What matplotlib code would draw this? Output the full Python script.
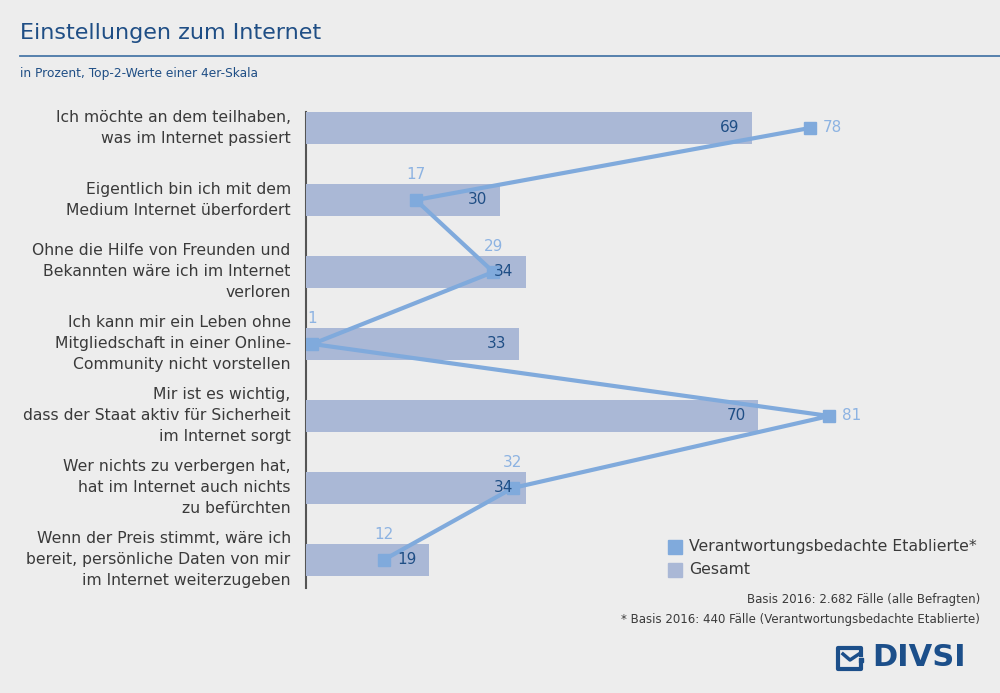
import matplotlib.pyplot as plt
from matplotlib.lines import Line2D
import numpy as np

# data
categories = [
    'Ich möchte an dem teilhaben,\nwas im Internet passiert',
    'Eigentlich bin ich mit dem\nMedium Internet überfordert',
    'Ohne die Hilfe von Freunden und\nBekannten wäre ich im Internet\nverloren',
    'Ich kann mir ein Leben ohne\nMitgliedschaft in einer Online-\nCommunity nicht vorstellen',
    'Mir ist es wichtig,\ndass der Staat aktiv für Sicherheit\nim Internet sorgt',
    'Wer nichts zu verbergen hat,\nhat im Internet auch nichts\nzu befürchten',
    'Wenn der Preis stimmt, wäre ich\nbereit, persönliche Daten von mir\nim Internet weiterzugeben',
]
gesamt = [69, 30, 34, 33, 70, 34, 19]
etablierte = [78, 17, 29, 1, 81, 32, 12]
legend_labels = ['Verantwortungsbedachte Etablierte*', 'Gesamt']
footnotes = ['Basis 2016: 2.682 Fälle (alle Befragten)',
             '* Basis 2016: 440 Fälle (Verantwortungsbedachte Etablierte)']

bg = '#ededed'
bar_col = '#aab8d6'
line_col = '#80aadc'
dark_blue = '#1f4e85'
light_blue = '#8db3e2'
text_col = '#3a3a3a'

plt.rcParams['font.family'] = ['DejaVu Sans']

fig = plt.figure(figsize=(10, 6.93), dpi=100, facecolor=bg)
W, H = 1000, 693

# axes placed so that x=0 sits at px 306 and one unit is ~6.46 px
ax = fig.add_axes([306 / W, 1 - 588 / H, 600 / W, 476 / H])
ax.set_facecolor('none')
ax.set_xlim(0, 600 / 6.46)
ax.set_ylim(6.389, -0.222)

y = np.arange(len(categories))
ax.barh(y, gesamt, height=0.44, color=bar_col, zorder=2)
ax.plot(etablierte, y, color=line_col, lw=3, marker='s', markersize=8.5,
        zorder=3, solid_capstyle='butt')

for i, (g, e) in enumerate(zip(gesamt, etablierte)):
    ax.annotate(str(g), (g, i), xytext=(-9, 0), textcoords='offset points',
                ha='right', va='center', fontsize=11, color=dark_blue, zorder=4)
    if e > g:
        ax.annotate(str(e), (e, i), xytext=(9, 0), textcoords='offset points',
                    ha='left', va='center', fontsize=11, color=light_blue, zorder=4)
    else:
        ax.annotate(str(e), (e, i), xytext=(0, 18), textcoords='offset points',
                    ha='center', va='center', fontsize=11, color=light_blue, zorder=4)

# category labels to the left of the axis
for i, c in enumerate(categories):
    ax.annotate(c, (0, i), xytext=(-11, 0), textcoords='offset points',
                ha='right', va='center', fontsize=11.25, color=text_col,
                linespacing=1.5, annotation_clip=False)

for s in ['top', 'right', 'bottom']:
    ax.spines[s].set_visible(False)
ax.spines['left'].set_color('#555555')
ax.spines['left'].set_linewidth(1.5)
ax.spines['left'].set_zorder(1)
ax.set_xticks([])
ax.set_yticks([])

# title block
fig.text(20 / W, 1 - 33 / H, 'Einstellungen zum Internet', fontsize=16,
         color=dark_blue, ha='left', va='center')
fig.add_artist(Line2D([20 / W, 1], [1 - 56 / H] * 2, color='#4a78a8', lw=1.3))
fig.text(20 / W, 1 - 74 / H, 'in Prozent, Top-2-Werte einer 4er-Skala', fontsize=8.8,
         color=dark_blue, ha='left', va='center')

# legend
for k, (lab, col) in enumerate(zip(legend_labels, [line_col, bar_col])):
    yy = 1 - (547 + 23 * k) / H
    fig.add_artist(Line2D([675 / W], [yy], marker='s', markersize=9.5,
                          color=col, lw=0))
    fig.text(689 / W, yy, lab, fontsize=11.3, color=text_col, ha='left', va='center')

for k, f in enumerate(footnotes):
    fig.text(980 / W, 1 - (600 + 19 * k) / H, f, fontsize=8.5, color=text_col,
             ha='right', va='center')

# DIVSI logo: box with a gap on the right, a check and a dot
logo_col = '#1c4f8a'
bx0, bx1, by0, by1 = 838, 861, 648, 669
box_x = [bx1, bx1, bx0, bx0, bx1, bx1]
box_y = [655, by0, by0, by1, by1, 664]
fig.add_artist(Line2D([v / W for v in box_x], [1 - v / H for v in box_y],
                      color=logo_col, lw=3, solid_joinstyle='round'))
fig.add_artist(Line2D([843 / W, 850 / W, 859 / W],
                      [1 - 654 / H, 1 - 660 / H, 1 - 654 / H],
                      color=logo_col, lw=2.5))
fig.add_artist(Line2D([861 / W], [1 - 659.5 / H], marker='s', markersize=2.5,
                      color=logo_col, lw=0))
fig.text(872 / W, 1 - 658 / H, 'DIVSI', fontsize=22, fontweight='bold',
         color=logo_col, ha='left', va='center')

fig.savefig('out.png', dpi=100, facecolor=bg)
